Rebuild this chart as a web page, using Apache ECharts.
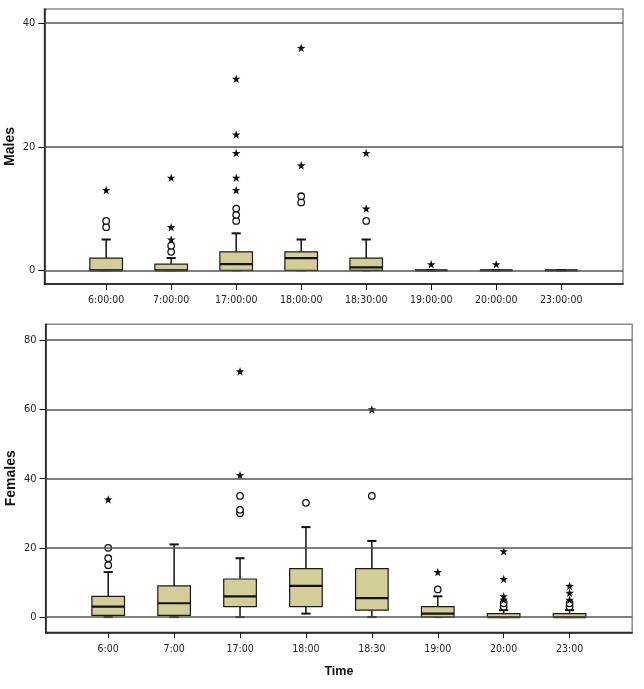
<!DOCTYPE html>
<html><head><meta charset="utf-8">
<script src="https://cdn.jsdelivr.net/npm/echarts@6/dist/echarts.min.js"></script>
<style>html,body{margin:0;padding:0;background:#fff}#c{width:644px;height:689px}</style>
</head><body><div id="c"></div>
<script>
// ---- data ----
const timesTop = ['6:00:00','7:00:00','17:00:00','18:00:00','18:30:00','19:00:00','20:00:00','23:00:00'];
const timesBottom = ['6:00','7:00','17:00','18:00','18:30','19:00','20:00','23:00'];

const maleMin    = [0, 0, 0, 0, 0,   0, 0, 0];
const maleQ1     = [0, 0, 0, 0, 0,   0, 0, 0];
const maleMedian = [0, 0, 1, 2, 0.5, 0, 0, 0];
const maleQ3     = [2, 1, 3, 3, 2,   0, 0, 0];
const maleMax    = [5, 2, 6, 5, 5,   0, 0, 0];
const maleCircles = [[7, 8], [3, 4], [8, 9, 10], [11, 12], [8], [], [], []];
const maleStars   = [[13], [5, 7, 15], [13, 15, 19, 22, 31], [17, 36], [10, 19], [1], [1], []];

const femaleMin    = [0,   0,   0,  1,  0,   0, 0, 0];
const femaleQ1     = [0.5, 0.5, 3,  3,  2,   0, 0, 0];
const femaleMedian = [3,   4,   6,  9,  5.5, 1, 0, 0];
const femaleQ3     = [6,   9,   11, 14, 14,  3, 1, 1];
const femaleMax    = [13,  21,  17, 26, 22,  6, 2, 2];
const femaleCircles = [[15, 17, 20], [], [30, 31, 35], [33], [35], [8], [3, 4], [3, 4]];
const femaleStars   = [[34], [], [41, 71], [], [60], [13], [5, 6, 11, 19], [5, 7, 9]];

const maleTicks = [0, 20, 40];
const femaleTicks = [0, 20, 40, 60, 80];
const catIdx = [0, 1, 2, 3, 4, 5, 6, 7];

// ---- helpers ----
const STAR = 'path://M10 0 L12.35 6.76 L19.51 6.91 L13.8 11.24 L15.88 18.09 L10 14 L4.12 18.09 L6.2 11.24 L0.49 6.91 L7.65 6.76 Z';
const narrow = '"Liberation Sans Narrow","Arial Narrow","DejaVu Sans Condensed",sans-serif';
const boldFont = '"Liberation Sans",Arial,sans-serif';

function boxData(mn, q1, md, q3, mx) {
  return mn.map((v, i) => [i, v, q1[i], md[i], q3[i], mx[i]]);
}
function pts(groups) {
  const out = [];
  groups.forEach((g, i) => g.forEach(v => out.push([i, v])));
  return out;
}
function renderBox(params, api) {
  const x = api.value(0);
  const pMin = api.coord([x, api.value(1)]);
  const pQ1 = api.coord([x, api.value(2)]);
  const pMd = api.coord([x, api.value(3)]);
  const pQ3 = api.coord([x, api.value(4)]);
  const pMax = api.coord([x, api.value(5)]);
  const cx = pMd[0], hw = 16.3, cw = 4.6;
  const line = (x1, y1, x2, y2, w) => ({
    type: 'line', shape: {x1, y1, x2, y2},
    style: {stroke: '#111', lineWidth: w}
  });
  return {
    type: 'group',
    children: [
      line(cx, pQ3[1], cx, pMax[1], 1.5),
      line(cx - cw, pMax[1], cx + cw, pMax[1], 2),
      line(cx, pQ1[1], cx, pMin[1], 1.5),
      line(cx - cw, pMin[1], cx + cw, pMin[1], 2),
      {type: 'rect', shape: {x: cx - hw, y: pQ3[1], width: hw * 2, height: pQ1[1] - pQ3[1]},
       style: {fill: '#d3ce97', stroke: '#1a1a1a', lineWidth: 1.2}},
      line(cx - hw, pMd[1], cx + hw, pMd[1], 2.2)
    ]
  };
}

function xAxisDef(gi, labels, withName) {
  const a = {
    type: 'value', gridIndex: gi, min: -0.95, max: 7.95,
    axisLine: {show: true, onZero: false, lineStyle: {color: '#111', width: 1.5}},
    axisTick: {show: true, customValues: catIdx, length: 6, lineStyle: {color: '#111', width: 1}},
    axisLabel: {customValues: catIdx, formatter: v => labels[Math.round(v)] || '',
                margin: 11, fontSize: 10.5, color: '#222', fontFamily: narrow},
    splitLine: {show: false}
  };
  if (withName) {
    a.name = 'Time'; a.nameLocation = 'middle'; a.nameGap = 33; a.nameMoveOverlap = false;
    a.nameTextStyle = {fontSize: 12.5, fontWeight: 'bold', color: '#111', fontFamily: boldFont};
  }
  return a;
}
function yAxisDef(gi, name, min, max, ticks) {
  return {
    type: 'value', gridIndex: gi, min, max,
    name, nameLocation: 'middle', nameGap: 27, nameMoveOverlap: false,
    nameTextStyle: {fontSize: 14, fontWeight: 'bold', color: '#111', fontFamily: boldFont},
    axisLine: {show: true, onZero: false, lineStyle: {color: '#111', width: 1.5}},
    axisTick: {show: true, customValues: ticks, length: 6, lineStyle: {color: '#111', width: 1}},
    axisLabel: {customValues: ticks, margin: 9, fontSize: 11, color: '#222', fontFamily: narrow},
    splitLine: {show: false}
  };
}
function gridLines(gi, ticks) {
  return {
    type: 'scatter', xAxisIndex: gi, yAxisIndex: gi, data: [], z: 1, silent: true,
    markLine: {silent: true, symbol: ['none', 'none'], label: {show: false},
      emphasis: {disabled: true}, animation: false,
      lineStyle: {color: '#555', width: 1.5, type: 'solid'},
      data: ticks.map(v => ({yAxis: v}))}
  };
}
function boxSeries(gi, data) {
  return {type: 'custom', xAxisIndex: gi, yAxisIndex: gi, z: 2, silent: true,
    renderItem: renderBox, encode: {x: 0, y: [1, 2, 3, 4, 5]}, data};
}
function circleSeries(gi, data) {
  return {type: 'scatter', xAxisIndex: gi, yAxisIndex: gi, z: 3, silent: true,
    symbol: 'circle', symbolSize: 6.5,
    itemStyle: {color: '#fff', borderColor: '#111', borderWidth: 1.3, opacity: 1}, data};
}
function starSeries(gi, data) {
  return {type: 'scatter', xAxisIndex: gi, yAxisIndex: gi, z: 3, silent: true,
    symbol: STAR, symbolSize: 8.5, itemStyle: {color: '#111', opacity: 1}, data};
}

const chart = echarts.init(document.getElementById('c'), null, {renderer: 'canvas'});
chart.setOption({
  animation: false,
  backgroundColor: '#fff',
  grid: [
    {left: 44.4, top: 9, width: 578.6, height: 275, show: true, borderColor: '#8c8c8c', borderWidth: 1.5,
     backgroundColor: 'transparent', containLabel: false, outerBoundsMode: 'none'},
    {left: 45.6, top: 324.3, width: 586.6, height: 308, show: true, borderColor: '#8c8c8c', borderWidth: 1.5,
     backgroundColor: 'transparent', containLabel: false, outerBoundsMode: 'none'}
  ],
  xAxis: [xAxisDef(0, timesTop, false), xAxisDef(1, timesBottom, true)],
  yAxis: [yAxisDef(0, 'Males', -2.2, 42.3, maleTicks), yAxisDef(1, 'Females', -4.4, 84.6, femaleTicks)],
  series: [
    gridLines(0, maleTicks),
    gridLines(1, femaleTicks),
    boxSeries(0, boxData(maleMin, maleQ1, maleMedian, maleQ3, maleMax)),
    boxSeries(1, boxData(femaleMin, femaleQ1, femaleMedian, femaleQ3, femaleMax)),
    circleSeries(0, pts(maleCircles)),
    circleSeries(1, pts(femaleCircles)),
    starSeries(0, pts(maleStars)),
    starSeries(1, pts(femaleStars))
  ]
});
</script></body></html>
